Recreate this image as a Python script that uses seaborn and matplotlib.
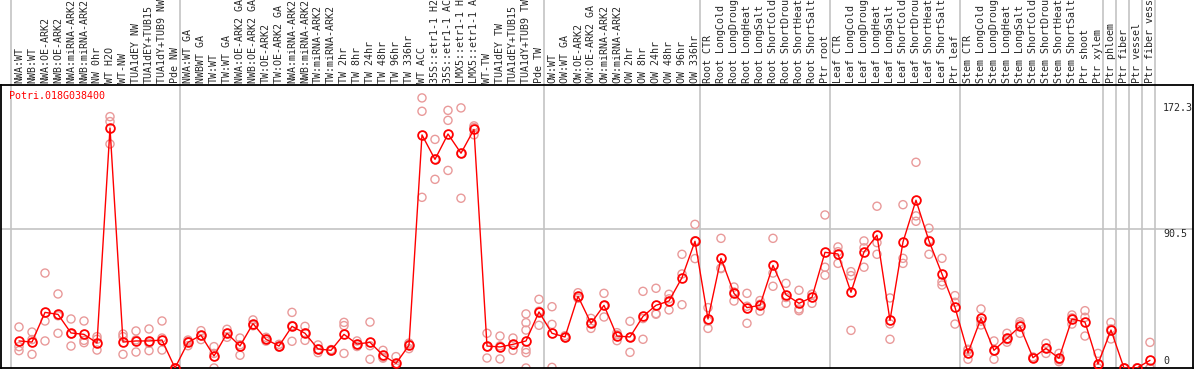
import numpy as np
import pandas as pd
import seaborn as sns
import matplotlib
matplotlib.use('Agg')
import matplotlib.pyplot as plt

gene = 'Potri.018G038400'

# sample names, in the order they are drawn (long names cut the way the picture cuts them)
grp_nw = ['NWA:WT', 'NWB:WT', 'NWA:OE-ARK2', 'NWB:OE-ARK2', 'NWA:miRNA-ARK2', 'NWB:miRNA-ARK2',
          'NW 0hr', 'WT H2O', 'WT-NW', 'TUA1dEY NW', 'TUA1dEY+TUB15', 'TUA1dY+TUB9 NW', 'Pde NW']
grp_tw = ['NWA:WT GA', 'NWBWT GA', 'TW:WT', 'TW:WT GA', 'NWA:OE-ARK2 GA', 'NWB:OE-ARK2 GA',
          'TW:OE-ARK2', 'TW:OE-ARK2 GA', 'NWA:miRNA-ARK2', 'NWB:miRNA-ARK2', 'TW:miRNA-ARK2',
          'TW:miRNA-ARK2', 'TW 2hr', 'TW 8hr', 'TW 24hr', 'TW 48hr', 'TW 96hr', 'TW 336hr',
          'WT ACC', '35S::etr1-1 H2', '35S::etr1-1 AC', 'LMX5::etr1-1 H', 'LMX5::etr1-1 A',
          'WT-TW', 'TUA1dEY TW', 'TUA1dEY+TUB15', 'TUA1dY+TUB9 TW', 'Pde TW']
grp_ow = ['OW:WT', 'OW:WT GA', 'OW:OE-ARK2', 'OW:OE-ARK2 GA', 'OW:miRNA-ARK2', 'OW:miRNA-ARK2',
          'OW 2hr', 'OW 8hr', 'OW 24hr', 'OW 48hr', 'OW 96hr', 'OW 336hr']
grp_root = ['Root CTR', 'Root LongCold', 'Root LongDroug', 'Root LongHeat', 'Root LongSalt',
            'Root ShortCold', 'Root ShortDrou', 'Root ShortHeat', 'Root ShortSalt', 'Ptr root']
grp_leaf = ['Leaf CTR', 'Leaf LongCold', 'Leaf LongDroug', 'Leaf LongHeat', 'Leaf LongSalt',
            'Leaf ShortCold', 'Leaf ShortDrou', 'Leaf ShortHeat', 'Leaf ShortSalt', 'Ptr leaf']
grp_stem = ['Stem CTR', 'Stem LongCold', 'Stem LongDroug', 'Stem LongHeat', 'Stem LongSalt',
            'Stem ShortCold', 'Stem ShortDrou', 'Stem ShortHeat', 'Stem ShortSalt', 'Ptr shoot',
            'Ptr xylem']
grp_tissue = [['Ptr phloem'], ['Ptr fiber'], ['Ptr vessel'], ['Ptr fiber vess']]

groups = [grp_nw, grp_tw, grp_ow, grp_root, grp_leaf, grp_stem] + grp_tissue
samples = [s for g in groups for s in g]

# mean expression per sample
means = [17.6, 16.9, 36.2, 34.9, 22.8, 21.9, 16.3, 156.2, 16.9, 17.6, 17.6, 18.2, 0.0,
         16.7, 21.3, 7.8, 22.6, 14.3, 28.9, 18.7, 14.3, 27.1, 22.6, 12.4, 11.5, 21.9, 15.6,
         16.7, 8.3, 3.0, 14.8, 151.7, 135.8, 152.3, 139.8, 155.3, 14.3, 13.7, 15.4, 17.6, 36.5,
         22.6, 20.2, 46.7, 29.1, 40.8, 20.8, 20.2, 33.6, 40.8, 43.6, 58.8, 82.5,
         31.9, 71.4, 48.6, 39.3, 40.8, 66.8, 47.7, 42.1, 46.0, 75.3,
         74.2, 49.3, 75.5, 86.4, 31.0, 82.0, 109.2, 82.7, 61.2, 39.5,
         9.8, 32.3, 11.5, 19.3, 27.1, 6.7, 12.8, 6.3, 31.9, 29.9, 2.6,
         24.7, 0.0, 0.0, 5.0]

# single replicates per sample
reps = [[26.7, 13.9, 11.3], [23.4, 8.9, 18.5], [61.8, 30.6, 17.6], [48.2, 22.6, 34.0],
        [31.9, 14.3, 22.2], [30.6, 18.0, 16.5], [20.4, 18.7, 11.7], [163.6, 160.4, 145.8],
        [22.1, 20.4, 8.9], [24.1, 10.4, 18.3], [25.4, 11.3, 16.1], [30.6, 19.5, 11.7],
        [0.0, 0.0, 0.0],
        [18.2, 14.5, 17.4], [24.3, 18.5, 21.0], [13.9, 0.0, 9.5], [25.2, 20.0, 22.6],
        [19.5, 8.3, 15.1], [31.3, 27.5, 28.0], [20.0, 17.5, 18.7], [15.4, 14.0, 13.6],
        [36.2, 17.4, 27.6], [27.1, 18.0, 22.7], [15.0, 10.0, 12.2], [12.0, 11.0, 11.5],
        [29.7, 27.6, 9.5], [17.6, 14.0, 15.2], [29.9, 5.7, 14.5], [11.5, 7.0, 6.4],
        [7.4, 0.0, 1.6], [12.6, 16.2, 15.6], [175.8, 167.1, 111.1], [148.8, 122.8, 135.8],
        [167.7, 161.2, 128.6], [169.3, 110.5, 139.6], [157.6, 156.5, 151.8], [22.6, 6.5, 13.8],
        [20.8, 5.9, 14.4], [19.5, 11.5, 15.2], [35.2, 29.5, 24.7, 12.0, 10.0, 0.0],
        [44.7, 27.8, 37.0],
        [39.9, 28.4, 0.4], [21.0, 19.8, 19.8], [49.0, 45.5, 45.6], [32.3, 25.8, 29.2],
        [48.6, 33.2, 40.6], [23.0, 17.8, 21.6], [30.4, 10.2, 20.0], [49.9, 18.7, 32.2],
        [51.9, 35.4, 35.0], [48.0, 37.8, 45.0], [74.0, 41.2, 61.2], [93.5, 71.2, 82.8],
        [39.3, 25.8, 30.6], [84.4, 64.7, 65.1], [52.7, 43.6, 49.5], [48.6, 29.1, 40.2],
        [41.5, 37.0, 43.9], [84.4, 61.8, 53.2], [55.1, 42.1, 45.9], [50.6, 37.3, 38.4],
        [48.0, 42.1, 47.9], [99.6, 65.6, 60.4],
        [78.8, 68.1, 75.7], [62.7, 60.1, 24.5], [82.7, 65.6, 78.2], [105.3, 81.6, 74.0],
        [45.6, 18.7, 28.7], [106.3, 71.4, 68.1], [133.9, 99.0, 95.5], [91.0, 74.0, 83.1],
        [71.4, 56.2, 54.0], [47.1, 28.6, 42.8],
        [12.2, 5.7, 11.5], [38.4, 28.0, 30.5], [17.6, 5.7, 11.2], [22.6, 16.8, 18.5],
        [30.1, 22.6, 28.6], [7.2, 6.5, 6.4], [16.1, 9.5, 12.8], [9.5, 4.1, 5.3],
        [34.5, 28.6, 32.6], [37.3, 33.0, 20.8], [9.5, 0.0, 0.0],
        [29.7, 18.9, 25.5], [0.0, 0.0, 0.0], [0.0, 0.0, 0.0], [16.7, 0.0, 0.0]]

y_marks = [172.3, 90.5, 0]

red = '#FF0000'
pink = '#E99A9A'
grey = '#C3C3C3'

sns.set_style('white')
plt.rcParams['font.family'] = ['DejaVu Sans Mono']

pos = np.arange(len(samples))
rep_df = pd.DataFrame({'pos': np.repeat(pos, [len(r) for r in reps]),
                       'value': [v for r in reps for v in r]})
mean_df = pd.DataFrame({'pos': pos, 'value': means})

W, H = 1194, 370
fig = plt.figure(figsize=(W/100, H/100), dpi=100)
ax = fig.add_axes([1/W, 2/H, 1192/W, 283/H])

# group separators, running up through the label header
edges = [-0.64]
k = 0
for g in groups:
    k += len(g)
    edges.append(k - 0.6)
for e in edges:
    ax.axvline(e, ymin=0, ymax=368/283, color=grey, lw=1.2, clip_on=False, zorder=1)
ax.axhline(y_marks[1], color=grey, lw=1.2, zorder=1)

sns.scatterplot(data=rep_df, x='pos', y='value', ax=ax, marker='o', s=34,
                facecolors='none', edgecolor=pink, linewidth=1.0, zorder=2)
sns.lineplot(data=mean_df, x='pos', y='value', ax=ax, color=red, lw=1.0,
             marker='o', markersize=6.3, markerfacecolor='none', markeredgecolor=red,
             markeredgewidth=1.3, zorder=3)

ax.set_xlim(-1.385, 90.31)
ax.set_ylim(0, 184.2)
ax.set_xlabel('')
ax.set_ylabel('')
ax.set_yticks([])
ax.xaxis.tick_top()
ax.set_xticks(pos)
ax.set_xticklabels(samples, rotation=90, fontsize=7.2, va='bottom', ha='center')
ax.tick_params(axis='x', length=0, pad=1.5)
for sp in ax.spines.values():
    sp.set_color('black')
    sp.set_linewidth(1.3)

# value scale on the right
x_lab = (1163 - 19) / 13
ax.text(x_lab, y_marks[0], '172.3', fontsize=7.2, va='top', ha='left')
ax.text(x_lab, y_marks[1], '90.5', fontsize=7.2, va='top', ha='left')
ax.text(x_lab, 1.3, '0', fontsize=7.2, va='bottom', ha='left')

ax.text(0.0067, 0.98, gene, transform=ax.transAxes, color=red, fontsize=7.2,
        va='top', ha='left')

plt.savefig('out.png', dpi=100)
